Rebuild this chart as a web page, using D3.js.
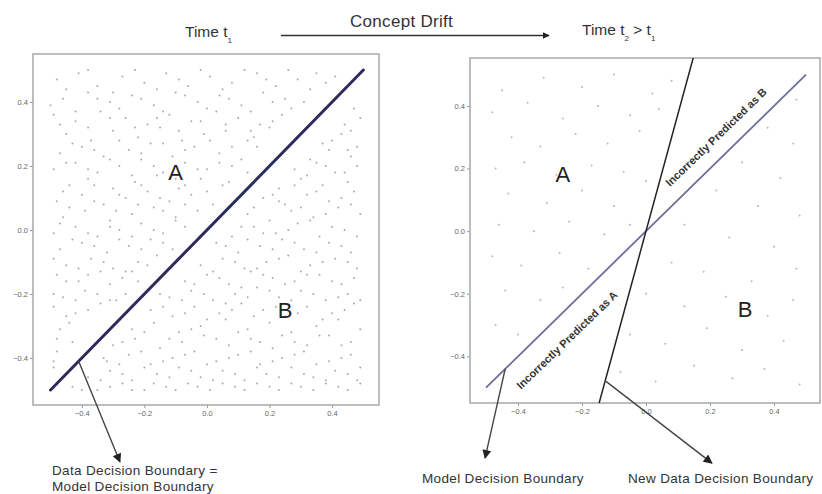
<!DOCTYPE html>
<html>
<head>
<meta charset="utf-8">
<script src="https://cdn.jsdelivr.net/npm/d3@7"></script>
<style>
  body { margin: 0; background: #fff; }
  svg { display: block; font-family: "Liberation Sans", Arial, sans-serif; }
  .tick text { font-size: 7.5px; fill: #666; }
  .tick line { stroke: #999; }
</style>
</head>
<body>
<div id="chart"></div>
<script>
// points at time t1 (dense, two classes separated by y = x)
const pointsT1 = [
  [-0.48,0.47],[-0.41,0.49],[-0.35,0.45],[-0.27,0.48],[-0.2,0.46],[-0.13,0.49],[-0.06,0.45],[0.01,0.48],[0.08,0.46],[0.16,0.49],[0.22,0.45],[0.29,0.47],[0.35,0.49],[0.41,0.48],
  [-0.46,0.41],[-0.38,0.43],[-0.31,0.4],[-0.24,0.42],[-0.17,0.39],[-0.1,0.43],[-0.03,0.4],[0.04,0.42],[0.11,0.39],[0.18,0.43],[0.25,0.41],[0.31,0.4],[0.47,0.38],
  [-0.49,0.36],[-0.42,0.34],[-0.34,0.37],[-0.26,0.35],[-0.19,0.33],[-0.12,0.36],[-0.05,0.34],[0.03,0.37],[0.1,0.35],[0.17,0.33],[0.24,0.36],[0.44,0.33],[0.49,0.35],
  [-0.45,0.3],[-0.37,0.28],[-0.3,0.31],[-0.22,0.29],[-0.15,0.32],[-0.08,0.28],[-0.01,0.3],[0.06,0.31],[0.13,0.28],[0.2,0.32],[0.37,0.27],[0.43,0.3],[0.48,0.26],
  [-0.47,0.24],[-0.4,0.26],[-0.33,0.23],[-0.25,0.25],[-0.18,0.27],[-0.11,0.23],[-0.04,0.26],[0.04,0.24],[0.11,0.22],[0.16,0.26],[0.33,0.22],[0.39,0.25],[0.46,0.23],
  [-0.49,0.19],[-0.42,0.21],[-0.35,0.18],[-0.28,0.2],[-0.21,0.22],[-0.14,0.18],[-0.07,0.21],[0.0,0.19],[0.08,0.2],[0.13,0.18],[0.28,0.19],[0.35,0.21],[0.41,0.18],[0.48,0.2],
  [-0.44,0.14],[-0.38,0.16],[-0.3,0.13],[-0.23,0.15],[-0.16,0.17],[-0.09,0.13],[-0.02,0.16],[0.05,0.14],[0.23,0.13],[0.3,0.16],[0.37,0.14],[0.45,0.15],
  [-0.48,0.09],[-0.4,0.11],[-0.33,0.08],[-0.26,0.1],[-0.19,0.12],[-0.12,0.09],[-0.05,0.11],[0.02,0.08],[0.18,0.1],[0.25,0.08],[0.32,0.11],[0.39,0.09],[0.47,0.12],
  [-0.46,0.04],[-0.39,0.06],[-0.31,0.03],[-0.24,0.05],[-0.17,0.07],[-0.1,0.04],[-0.03,0.06],[0.13,0.05],[0.2,0.03],[0.27,0.06],[0.34,0.04],[0.42,0.07],[0.49,0.05],
  [-0.49,-0.01],[-0.42,0.01],[-0.35,-0.02],[-0.28,0.0],[-0.21,0.02],[-0.14,-0.01],[-0.07,0.01],[0.08,-0.02],[0.15,0.01],[0.22,-0.01],[0.29,0.02],[0.36,-0.02],[0.44,0.0],
  [-0.47,-0.06],[-0.4,-0.04],[-0.32,-0.07],[-0.25,-0.05],[-0.18,-0.03],[-0.11,-0.06],[0.03,-0.04],[0.1,-0.07],[0.17,-0.05],[0.24,-0.03],[0.31,-0.06],[0.39,-0.04],[0.46,-0.07],
  [-0.45,-0.11],[-0.37,-0.09],[-0.3,-0.12],[-0.22,-0.1],[-0.16,-0.08],[-0.02,-0.11],[0.05,-0.09],[0.12,-0.12],[0.19,-0.1],[0.26,-0.08],[0.33,-0.11],[0.41,-0.09],[0.48,-0.12],
  [-0.48,-0.14],[-0.41,-0.16],[-0.34,-0.13],[-0.27,-0.15],[-0.22,-0.16],[-0.07,-0.16],[0.0,-0.14],[0.07,-0.17],[0.14,-0.13],[0.21,-0.15],[0.28,-0.16],[0.36,-0.14],[0.43,-0.17],
  [-0.46,-0.21],[-0.39,-0.19],[-0.31,-0.22],[-0.26,-0.2],[-0.12,-0.21],[-0.05,-0.19],[0.02,-0.22],[0.09,-0.2],[0.16,-0.18],[0.23,-0.21],[0.3,-0.19],[0.38,-0.22],[0.45,-0.2],
  [-0.49,-0.24],[-0.42,-0.26],[-0.34,-0.23],[-0.18,-0.25],[-0.11,-0.27],[-0.04,-0.24],[0.04,-0.26],[0.11,-0.23],[0.18,-0.25],[0.25,-0.27],[0.32,-0.24],[0.4,-0.26],[0.47,-0.23],
  [-0.47,-0.31],[-0.44,-0.29],[-0.24,-0.31],[-0.17,-0.29],[-0.09,-0.32],[-0.02,-0.3],[0.06,-0.28],[0.13,-0.31],[0.2,-0.29],[0.27,-0.32],[0.35,-0.3],[0.42,-0.28],[0.49,-0.31],
  [-0.48,-0.34],[-0.3,-0.36],[-0.23,-0.34],[-0.15,-0.37],[-0.08,-0.35],[-0.01,-0.33],[0.07,-0.36],[0.14,-0.34],[0.21,-0.37],[0.28,-0.35],[0.36,-0.33],[0.43,-0.36],
  [-0.49,-0.41],[-0.32,-0.41],[-0.25,-0.39],[-0.18,-0.42],[-0.11,-0.4],[-0.04,-0.38],[0.03,-0.41],[0.1,-0.39],[0.17,-0.42],[0.24,-0.4],[0.31,-0.38],[0.39,-0.41],[0.46,-0.39],
  [-0.38,-0.46],[-0.31,-0.44],[-0.24,-0.47],[-0.16,-0.45],[-0.09,-0.43],[-0.02,-0.46],[0.05,-0.44],[0.12,-0.47],[0.19,-0.45],[0.27,-0.43],[0.34,-0.46],[0.41,-0.44],[0.48,-0.47],
  [-0.43,-0.49],[-0.35,-0.5],[-0.27,-0.48],[-0.2,-0.5],[-0.13,-0.49],[-0.06,-0.48],[0.01,-0.5],[0.09,-0.49],[0.16,-0.48],[0.23,-0.5],[0.3,-0.49],[0.38,-0.48],[0.45,-0.5],
  [-0.45,0.44],[-0.38,0.5],[-0.3,0.43],[-0.23,0.5],[-0.16,0.44],[-0.09,0.47],[-0.02,0.5],[0.05,0.44],[0.12,0.5],[0.19,0.47],[0.26,0.5],[0.33,0.44],[0.38,0.46],
  [-0.5,0.39],[-0.42,0.37],[-0.35,0.41],[-0.28,0.38],[-0.21,0.41],[-0.14,0.37],[-0.07,0.42],[0.0,0.38],[0.07,0.41],[0.14,0.37],[0.21,0.4],[0.27,0.38],
  [-0.47,0.33],[-0.38,0.32],[-0.31,0.35],[-0.23,0.32],[-0.16,0.35],[-0.09,0.31],[-0.02,0.34],[0.06,0.33],[0.14,0.31],[0.21,0.34],[0.46,0.31],
  [-0.43,0.27],[-0.36,0.25],[-0.28,0.28],[-0.21,0.24],[-0.14,0.27],[-0.07,0.25],[0.01,0.28],[0.08,0.26],[0.15,0.29],[0.4,0.28],[0.45,0.25],
  [-0.45,0.21],[-0.38,0.19],[-0.31,0.22],[-0.24,0.17],[-0.17,0.2],[-0.1,0.16],[-0.03,0.19],[0.04,0.21],[0.32,0.17],[0.38,0.2],[0.44,0.18],
  [-0.46,0.12],[-0.36,0.14],[-0.28,0.11],[-0.21,0.14],[-0.15,0.1],[-0.07,0.14],[0.0,0.12],[0.07,0.15],[0.21,0.11],[0.28,0.14],[0.35,0.12],[0.43,0.1],
  [-0.44,0.07],[-0.36,0.09],[-0.29,0.06],[-0.22,0.08],[-0.14,0.06],[-0.07,0.08],[0.15,0.07],[0.23,0.09],[0.3,0.07],[0.38,0.05],[0.46,0.08],
  [-0.47,0.02],[-0.38,-0.01],[-0.31,0.01],[-0.24,-0.02],[-0.17,0.0],[-0.1,0.03],[0.11,0.01],[0.18,-0.01],[0.26,0.0],[0.33,0.03],[0.4,0.01],[0.48,-0.02],
  [-0.43,-0.03],[-0.36,-0.05],[-0.28,-0.03],[-0.21,-0.06],[-0.14,-0.04],[0.06,-0.05],[0.13,-0.03],[0.21,-0.06],[0.28,-0.04],[0.35,-0.07],[0.43,-0.05],
  [-0.49,-0.09],[-0.41,-0.12],[-0.33,-0.1],[-0.26,-0.13],[-0.19,-0.11],[0.02,-0.13],[0.09,-0.1],[0.16,-0.12],[0.23,-0.09],[0.3,-0.13],[0.37,-0.1],[0.45,-0.1],
  [-0.45,-0.16],[-0.38,-0.14],[-0.31,-0.17],[-0.24,-0.13],[-0.04,-0.17],[0.04,-0.15],[0.11,-0.18],[0.18,-0.14],[0.25,-0.17],[0.32,-0.14],[0.4,-0.16],[0.47,-0.15],
  [-0.49,-0.2],[-0.42,-0.22],[-0.35,-0.2],[-0.29,-0.22],[-0.15,-0.2],[-0.08,-0.22],[-0.01,-0.2],[0.06,-0.23],[0.13,-0.21],[0.2,-0.19],[0.27,-0.22],[0.34,-0.2],[0.42,-0.21],[0.49,-0.22],
  [-0.45,-0.27],[-0.38,-0.25],[-0.14,-0.24],[-0.07,-0.26],[0.0,-0.28],[0.08,-0.25],[0.15,-0.27],[0.22,-0.24],[0.29,-0.26],[0.37,-0.28],[0.44,-0.25],
  [-0.43,-0.35],[-0.48,-0.38],[-0.27,-0.35],[-0.2,-0.32],[-0.12,-0.34],[-0.05,-0.31],[0.03,-0.34],[0.1,-0.32],[0.17,-0.35],[0.24,-0.33],[0.32,-0.36],[0.39,-0.33],[0.46,-0.35],
  [-0.49,-0.43],[-0.33,-0.4],[-0.28,-0.42],[-0.21,-0.38],[-0.14,-0.41],[-0.07,-0.39],[0.0,-0.42],[0.07,-0.4],[0.14,-0.38],[0.21,-0.41],[0.28,-0.39],[0.35,-0.42],[0.43,-0.4],[0.49,-0.43],
  [-0.34,-0.47],[-0.27,-0.45],[-0.2,-0.43],[-0.12,-0.46],[-0.05,-0.44],[0.02,-0.47],[0.09,-0.45],[0.16,-0.43],[0.23,-0.46],[0.31,-0.45],[0.38,-0.47],[0.45,-0.45],
  [-0.4,-0.5],[-0.31,-0.49],[-0.24,-0.5],[-0.17,-0.48],[-0.1,-0.5],[-0.03,-0.49],[0.05,-0.48],[0.12,-0.5],[0.2,-0.49],[0.27,-0.48],[0.34,-0.5],[0.42,-0.49],[0.49,-0.48]
];

// points at time t2 (sparse)
const pointsT2 = [
  [-0.45,0.45],[-0.32,0.49],[-0.2,0.46],[-0.1,0.5],[0.02,0.44],[0.08,0.48],
  [-0.48,0.38],[-0.37,0.41],[-0.26,0.36],[-0.15,0.4],[-0.05,0.37],[0.04,0.39],
  [-0.42,0.3],[-0.33,0.27],[-0.22,0.31],[-0.12,0.28],[-0.02,0.32],
  [-0.47,0.2],[-0.38,0.22],[-0.28,0.18],[-0.17,0.21],[-0.07,0.19],[0.0,0.16],
  [-0.43,0.12],[-0.31,0.09],[-0.2,0.13],[-0.1,0.08],
  [-0.46,0.02],[-0.35,0.0],[-0.24,0.03],[-0.13,-0.01],[-0.05,0.02],
  [-0.48,-0.08],[-0.39,-0.11],[-0.27,-0.07],[-0.18,-0.12],
  [-0.44,-0.19],[-0.33,-0.22],[-0.26,-0.18],[-0.47,-0.3],[-0.4,-0.33],
  [0.47,0.42],[0.38,0.33],[0.46,0.28],[0.3,0.22],[0.42,0.17],[0.22,0.13],[0.35,0.08],[0.48,0.05],
  [0.12,0.02],[0.26,-0.02],[0.4,-0.05],[0.08,-0.1],[0.18,-0.13],[0.33,-0.16],[0.47,-0.12],
  [0.0,-0.2],[0.12,-0.24],[0.25,-0.21],[0.38,-0.27],[0.46,-0.22],
  [-0.05,-0.33],[0.06,-0.36],[0.19,-0.31],[0.3,-0.38],[0.43,-0.35],
  [-0.08,-0.45],[0.03,-0.48],[0.15,-0.43],[0.27,-0.47],[0.37,-0.44],[0.48,-0.49]
];

const tickValues = [-0.4, -0.2, 0.0, 0.2, 0.4];

// boundaries: [x1, y1, x2, y2] in data units
const dataBoundary = [-0.5, -0.5, 0.5, 0.5];
const modelBoundary = [-0.5, -0.5, 0.5, 0.5];
const newDataBoundary = [-0.16, -0.6, 0.16, 0.6];

const regionLabelsT1 = [{ text: "A", x: -0.1, y: 0.18 }, { text: "B", x: 0.25, y: -0.25 }];
const regionLabelsT2 = [{ text: "A", x: -0.26, y: 0.18 }, { text: "B", x: 0.31, y: -0.25 }];

const width = 822, height = 494;

const svg = d3.select("#chart").append("svg")
  .attr("width", width)
  .attr("height", height);

const defs = svg.append("defs");
defs.append("marker")
  .attr("id", "head")
  .attr("viewBox", "0 0 10 10")
  .attr("refX", 9).attr("refY", 5)
  .attr("markerWidth", 7).attr("markerHeight", 7)
  .attr("markerUnits", "userSpaceOnUse")
  .attr("orient", "auto")
  .append("path")
  .attr("d", "M0,0 L10,5 L0,10 z")
  .attr("fill", "#222");
defs.append("marker")
  .attr("id", "headBig")
  .attr("viewBox", "0 0 10 10")
  .attr("refX", 9).attr("refY", 5)
  .attr("markerWidth", 11).attr("markerHeight", 9)
  .attr("markerUnits", "userSpaceOnUse")
  .attr("orient", "auto")
  .append("path")
  .attr("d", "M0,0 L10,5 L0,10 z")
  .attr("fill", "#222");

function panel(id, xRange, yRange, xDomain, yDomain, points, pointColour) {
  const x = d3.scaleLinear().domain(xDomain).range(xRange);
  const y = d3.scaleLinear().domain(yDomain).range(yRange);

  const g = svg.append("g").attr("id", id);

  defs.append("clipPath").attr("id", "clip-" + id)
    .append("rect")
    .attr("x", xRange[0]).attr("y", yRange[1])
    .attr("width", xRange[1] - xRange[0])
    .attr("height", yRange[0] - yRange[1]);

  g.append("g")
    .attr("transform", `translate(${xRange[0]},0)`)
    .call(d3.axisLeft(y).tickValues(tickValues).tickFormat(d3.format(".1f")).tickSize(3).tickPadding(2))
    .call(a => a.select(".domain").remove());

  g.append("g")
    .attr("transform", `translate(0,${yRange[0]})`)
    .call(d3.axisBottom(x).tickValues(tickValues).tickFormat(d3.format(".1f")).tickSize(3).tickPadding(3))
    .call(a => a.select(".domain").remove());

  g.append("g")
    .selectAll("circle")
    .data(points)
    .enter()
    .append("circle")
    .attr("cx", d => x(d[0]))
    .attr("cy", d => y(d[1]))
    .attr("r", 1)
    .attr("fill", pointColour);

  g.append("rect")
    .attr("x", xRange[0]).attr("y", yRange[1])
    .attr("width", xRange[1] - xRange[0])
    .attr("height", yRange[0] - yRange[1])
    .attr("fill", "none")
    .attr("stroke", "#a8a8a8")
    .attr("stroke-width", 1.5);

  return { g, x, y, clip: "url(#clip-" + id + ")" };
}

// ---- left panel (time t1)
const p1 = panel("t1", [33, 379], [405, 54], [-0.556, 0.55], [-0.547, 0.55], pointsT1, "#a9a9a9");

p1.g.append("line")
  .attr("x1", p1.x(dataBoundary[0])).attr("y1", p1.y(dataBoundary[1]))
  .attr("x2", p1.x(dataBoundary[2])).attr("y2", p1.y(dataBoundary[3]))
  .attr("stroke", "#2c2c5c")
  .attr("stroke-width", 3)
  .attr("stroke-linecap", "round");

p1.g.selectAll(".region")
  .data(regionLabelsT1)
  .enter()
  .append("text")
  .attr("x", d => p1.x(d.x))
  .attr("y", d => p1.y(d.y))
  .attr("text-anchor", "middle")
  .attr("dy", "0.35em")
  .attr("font-size", 22)
  .attr("fill", "#222")
  .text(d => d.text);

// ---- right panel (time t2)
const p2 = panel("t2", [470, 820], [403, 58], [-0.55, 0.5437], [-0.549, 0.553], pointsT2, "#b8b8b8");

p2.g.append("line")
  .attr("x1", p2.x(modelBoundary[0])).attr("y1", p2.y(modelBoundary[1]))
  .attr("x2", p2.x(modelBoundary[2])).attr("y2", p2.y(modelBoundary[3]))
  .attr("stroke", "#6e6e9a")
  .attr("stroke-width", 1.8);

p2.g.append("line")
  .attr("clip-path", p2.clip)
  .attr("x1", p2.x(newDataBoundary[0])).attr("y1", p2.y(newDataBoundary[1]))
  .attr("x2", p2.x(newDataBoundary[2])).attr("y2", p2.y(newDataBoundary[3]))
  .attr("stroke", "#222")
  .attr("stroke-width", 1.5);

p2.g.selectAll(".region")
  .data(regionLabelsT2)
  .enter()
  .append("text")
  .attr("x", d => p2.x(d.x))
  .attr("y", d => p2.y(d.y))
  .attr("text-anchor", "middle")
  .attr("dy", "0.35em")
  .attr("font-size", 22)
  .attr("fill", "#222")
  .text(d => d.text);

const wedgeLabels = [
  { text: "Incorrectly Predicted as A", x: -0.247, y: -0.348 },
  { text: "Incorrectly Predicted as B", x: 0.219, y: 0.30 }
];
p2.g.selectAll(".wedge")
  .data(wedgeLabels)
  .enter()
  .append("text")
  .attr("transform", d => `translate(${p2.x(d.x)},${p2.y(d.y)}) rotate(-44)`)
  .attr("text-anchor", "middle")
  .attr("dy", "0.35em")
  .attr("font-size", 11)
  .attr("font-weight", "bold")
  .attr("fill", "#333")
  .text(d => d.text);

// ---- annotation arrows
const arrows = [
  { p: p1, from: [-0.41, -0.41], to: [-0.278, -0.725] },
  { p: p2, from: [-0.44, -0.44], to: [-0.503, -0.725] },
  { p: p2, from: [-0.125, -0.48], to: [0.206, -0.741] }
];
svg.selectAll(".arrow")
  .data(arrows)
  .enter()
  .append("line")
  .attr("x1", d => d.p.x(d.from[0])).attr("y1", d => d.p.y(d.from[1]))
  .attr("x2", d => d.p.x(d.to[0])).attr("y2", d => d.p.y(d.to[1]))
  .attr("stroke", "#444")
  .attr("stroke-width", 1.4)
  .attr("marker-end", "url(#headBig)");

// ---- titles
const txt = svg.append("g").attr("fill", "#333");

function titleWithSubs(x, y, parts) {
  const t = txt.append("text").attr("x", x).attr("y", y).attr("font-size", 15.5);
  parts.forEach(p => {
    if (p.sub) {
      t.append("tspan").attr("font-size", 8).attr("dy", 6).text(p.text);
      t.append("tspan").attr("dy", -6).text(p.after || "");
    } else {
      t.append("tspan").text(p.text);
    }
  });
}
titleWithSubs(185, 37, [{ text: "Time t" }, { text: "1", sub: true }]);
titleWithSubs(582, 35, [{ text: "Time t" }, { text: "2", sub: true, after: " >  t" }, { text: "1", sub: true }]);

txt.append("text")
  .attr("x", 350).attr("y", 27)
  .attr("font-size", 17)
  .attr("letter-spacing", 0.3)
  .text("Concept Drift");

svg.append("line")
  .attr("x1", 281).attr("y1", 35.5)
  .attr("x2", 549).attr("y2", 35.5)
  .attr("stroke", "#333")
  .attr("stroke-width", 1.5)
  .attr("marker-end", "url(#head)");

// ---- bottom captions
const captions = [
  { x: 52, y: 475, text: "Data Decision Boundary =" },
  { x: 52, y: 491, text: "Model Decision Boundary" },
  { x: 422, y: 483, text: "Model Decision Boundary" },
  { x: 628, y: 483, text: "New Data Decision Boundary" }
];
txt.selectAll(".caption")
  .data(captions)
  .enter()
  .append("text")
  .attr("x", d => d.x).attr("y", d => d.y)
  .attr("font-size", 13.5)
  .attr("letter-spacing", 0.35)
  .text(d => d.text);
</script>
</body>
</html>
